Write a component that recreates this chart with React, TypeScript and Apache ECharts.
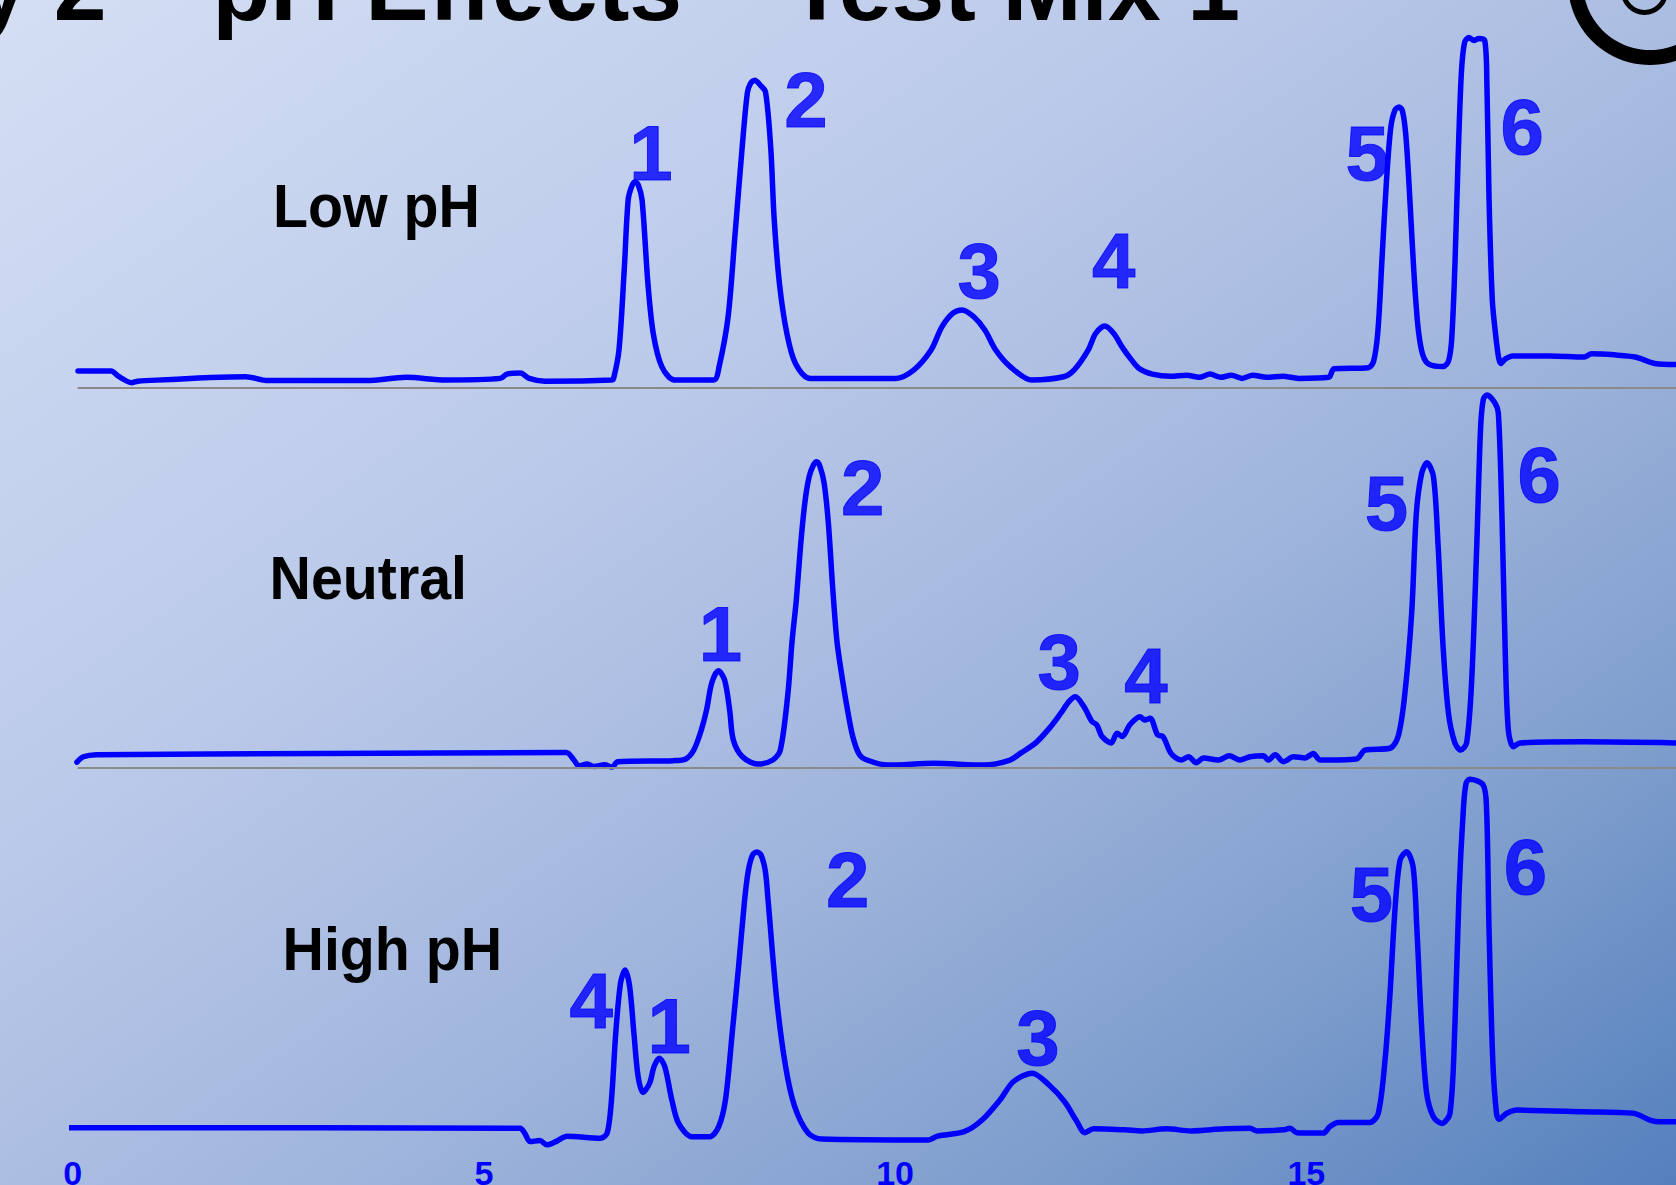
import React, { useEffect, useRef } from "react";
import * as echarts from "echarts";

// ---------- data (time in minutes, signal in detector units above each baseline) ----------
const TIME_MAX = 19.495;
const TIME_TICKS = [0, 5, 10, 15];
const TITLE = "Study 2 \u2013 pH Effects \u2013 Test Mix 1";
const TRACE_NAMES = ["Low pH", "Neutral", "High pH"];

const lowPH: [number, number][] = [
  [0.065, 16], [0.468, 16], [0.555, 11], [0.715, 5], [0.793, 6.4], [2.102, 10.6], [2.372, 7],
  [3.567, 7], [4.056, 10], [4.537, 7.5], [5.2, 9], [5.278, 13], [5.442, 14], [5.551, 9],
  [5.74, 6.4], [6.552, 7.5], [6.578, 9.3], [6.643, 36], [6.708, 113], [6.754, 176], [6.799, 189],
  [6.838, 193], [6.877, 190], [6.923, 176], [6.994, 98], [7.059, 51], [7.163, 20], [7.319, 7.5],
  [7.795, 7.5], [7.86, 20], [7.969, 66.6], [8.055, 145], [8.138, 223], [8.203, 276], [8.242, 285],
  [8.294, 288], [8.359, 283.5], [8.424, 277], [8.489, 223], [8.528, 160], [8.593, 98], [8.684, 51],
  [8.788, 23], [8.97, 9], [10.008, 9], [10.229, 17], [10.437, 35.5], [10.567, 57], [10.703, 70],
  [10.814, 73], [10.957, 66.6], [11.093, 54], [11.223, 35.5], [11.399, 20], [11.659, 7.5],
  [12.048, 10.5], [12.178, 17], [12.347, 35.5], [12.438, 51], [12.549, 58], [12.659, 51],
  [12.763, 38], [12.867, 27], [12.971, 18], [13.127, 13], [13.348, 11], [13.543, 12], [13.699, 10],
  [13.829, 13], [13.959, 10], [14.089, 12], [14.219, 9], [14.349, 12], [14.518, 10], [14.713, 11],
  [14.908, 9], [15.272, 10], [15.337, 18], [15.753, 19], [15.818, 25], [15.87, 53], [15.922, 123],
  [15.974, 193], [16.026, 243], [16.078, 260], [16.13, 263], [16.169, 259], [16.208, 238],
  [16.247, 193], [16.286, 138], [16.325, 88], [16.364, 53], [16.416, 31], [16.494, 22],
  [16.663, 20], [16.728, 25], [16.767, 45], [16.806, 113], [16.845, 213], [16.884, 293],
  [16.923, 323], [16.975, 328], [17.04, 325], [17.092, 327], [17.17, 325], [17.196, 283],
  [17.222, 176], [17.261, 83], [17.3, 51], [17.339, 28], [17.365, 23], [17.417, 27], [17.508, 30],
  [17.963, 30], [18.378, 29], [18.469, 32], [18.742, 31], [19.002, 29], [19.236, 23], [19.496, 22],
];

const neutral: [number, number][] = [
  [0.052, 5], [0.13, 10], [0.286, 12], [3.015, 13], [6.001, 14], [6.095, 7], [6.157, 1.3],
  [6.252, 3.2], [6.339, 1], [6.467, 2.6], [6.558, 0.4], [6.628, 5.4], [7.305, 6.4], [7.455, 8],
  [7.552, 16.3], [7.643, 35], [7.708, 54], [7.77, 79], [7.851, 90.5], [7.926, 82], [7.988, 54],
  [8.032, 26], [8.144, 10], [8.329, 3.2], [8.513, 7], [8.604, 16.3], [8.695, 68], [8.747, 118],
  [8.799, 157], [8.851, 208], [8.903, 248], [8.955, 272], [9.007, 283], [9.046, 286], [9.085, 282],
  [9.137, 266], [9.189, 228], [9.241, 168], [9.293, 118], [9.358, 83], [9.423, 53], [9.488, 28],
  [9.566, 12], [9.657, 7], [9.912, 2.3], [10.469, 4], [11.086, 2.3], [11.398, 7], [11.522, 13.2],
  [11.71, 23], [11.892, 38.2], [12.017, 51], [12.113, 61.6], [12.191, 66.2], [12.295, 57],
  [12.393, 43], [12.451, 40], [12.516, 29], [12.628, 23], [12.698, 32], [12.763, 29], [12.854, 40],
  [12.977, 47.5], [13.036, 44.4], [13.101, 46], [13.192, 30.4], [13.257, 29], [13.355, 13.2],
  [13.478, 7], [13.569, 10], [13.66, 4.5], [13.751, 9], [13.933, 7], [14.063, 11], [14.193, 7],
  [14.315, 10], [14.479, 11], [14.537, 7], [14.622, 12], [14.72, 5.4], [14.843, 10], [14.986, 9],
  [15.084, 13.2], [15.167, 7], [15.609, 8], [15.713, 16.3], [16.017, 18], [16.116, 29],
  [16.194, 66.2], [16.281, 144.4], [16.338, 238], [16.403, 275.4], [16.468, 285], [16.546, 272],
  [16.603, 206.6], [16.663, 113], [16.728, 51], [16.806, 23], [16.877, 16.3], [16.949, 23],
  [17.011, 82], [17.072, 207], [17.118, 316], [17.151, 344], [17.196, 348.5], [17.294, 341],
  [17.335, 331.4], [17.378, 238], [17.417, 113], [17.456, 35], [17.517, 19.5], [17.599, 23],
  [18.365, 24], [19.496, 23],
];

const highPH: [number, number][] = [
  [-0.065, 20], [5.441, 19.5], [5.495, 15], [5.563, 7], [5.68, 8], [5.766, 4], [5.875, 7],
  [6.01, 12], [6.417, 10.2], [6.499, 15], [6.551, 46], [6.603, 108.3], [6.661, 155.2],
  [6.716, 167.5], [6.772, 152], [6.824, 108.3], [6.875, 68], [6.934, 53], [7.015, 61.6],
  [7.068, 77], [7.132, 85], [7.2, 77], [7.285, 46], [7.367, 24], [7.531, 11.6], [7.746, 11.6],
  [7.855, 21], [7.937, 46], [8.019, 108.3], [8.097, 171], [8.17, 233], [8.214, 260], [8.266, 275],
  [8.318, 278], [8.37, 275], [8.422, 260], [8.455, 233], [8.561, 139.5], [8.669, 77], [8.778, 40],
  [8.942, 15], [9.104, 9.4], [10.407, 8.5], [10.515, 12.2], [10.84, 16.3], [11.057, 27.2],
  [11.275, 46], [11.437, 63], [11.665, 71], [11.872, 60], [12.061, 44.3], [12.199, 27.2],
  [12.308, 15.4], [12.412, 19], [12.794, 18], [13.0, 17], [13.3, 19], [13.6, 17], [14.0, 19],
  [14.315, 19.5], [14.4, 17], [14.72, 18], [14.803, 19.5], [14.882, 15.4], [15.207, 15],
  [15.285, 21], [15.389, 25], [15.773, 25], [15.875, 33.5], [15.957, 83.3], [16.018, 146],
  [16.078, 224], [16.14, 270.4], [16.22, 278.2], [16.298, 264.2], [16.343, 208], [16.402, 114.5],
  [16.463, 52.4], [16.545, 30.3], [16.647, 24], [16.747, 33.5], [16.806, 114.5], [16.857, 239.4],
  [16.909, 317.2], [16.942, 342.2], [16.987, 346], [17.151, 340.6], [17.192, 317.2], [17.221, 208],
  [17.267, 83.3], [17.312, 33.5], [17.344, 28], [17.437, 33.5], [17.56, 36.5], [18.365, 35],
  [18.976, 33.5], [19.179, 27.2], [19.301, 25.6], [19.496, 25.6],
];

// peak number labels: [time, signal, label]
const lowPeaks: [number, number, string][] = [
  [7.031, 219.5, "1"], [8.916, 269, "2"], [11.021, 109, "3"], [12.659, 119, "4"],
  [15.74, 219.5, "5"], [17.624, 244.5, "6"],
];
const neutralPeaks: [number, number, string][] = [
  [7.876, 125, "1"], [9.605, 261.5, "2"], [11.996, 98.5, "3"], [13.049, 86, "4"],
  [15.974, 247, "5"], [17.832, 274, "6"],
];
const highPeaks: [number, number, string][] = [
  [6.304, 138.5, "4"], [7.252, 115.5, "1"], [9.423, 251.5, "2"], [11.737, 103.5, "3"],
  [15.792, 239, "5"], [17.664, 264, "6"],
];

// ---------- layout ----------
const W = 1676;
const H = 1185;
const FONT = '"Liberation Sans", Arial, Helvetica, sans-serif';
const BLUE = "#0000ff";
const GRID_LEFT = 72.7;
const GRID_WIDTH = W - GRID_LEFT;
const PANELS = [
  { top: 0, height: 388.0, yMax: 363, baseline: true, labelX: 273, labelY: 206 },
  { top: 388.0, height: 379.5, yMax: 355, baseline: true, labelX: 269.5, labelY: 577.6 },
  { top: 767.5, height: 381.6, yMax: 357, baseline: false, labelX: 282.5, labelY: 948.5 },
];

export default function App() {
  const ref = useRef<HTMLDivElement>(null);

  useEffect(() => {
    document.body.style.margin = "0";
    if (!ref.current) return;
    const chart = echarts.init(ref.current, null, { renderer: "svg" });
    const traces = [lowPH, neutral, highPH];
    const peaks = [lowPeaks, neutralPeaks, highPeaks];

    const series: any[] = [];
    traces.forEach((data, i) => {
      series.push({
        type: "line",
        name: TRACE_NAMES[i],
        xAxisIndex: i,
        yAxisIndex: i,
        data,
        showSymbol: false,
        symbol: "none",
        smooth: 0.3,
        clip: false,
        z: 3,
        lineStyle: { color: BLUE, width: 5.5, join: "round", cap: "round" },
        markLine: PANELS[i].baseline
          ? {
              silent: true,
              symbol: ["none", "none"],
              label: { show: false },
              lineStyle: { color: "#8a8a8a", width: 2, type: "solid" },
              data: [[{ coord: [0.06, 0] }, { coord: [TIME_MAX, 0] }]],
            }
          : undefined,
      });
      series.push({
        type: "scatter",
        xAxisIndex: i,
        yAxisIndex: i,
        symbolSize: 1,
        clip: false,
        silent: true,
        z: 4,
        itemStyle: { color: "rgba(0,0,0,0)" },
        data: peaks[i].map(([t, v, n]) => ({ value: [t, v], name: n })),
        label: {
          show: true,
          position: "inside",
          formatter: "{b}",
          fontSize: 78,
          fontWeight: "bold",
          fontFamily: FONT,
          color: BLUE,
          textBorderColor: BLUE,
          textBorderWidth: 1,
        },
      });
    });

    const option: any = {
      animation: false,
      grid: PANELS.map((p) => ({
        left: GRID_LEFT,
        width: GRID_WIDTH,
        top: p.top,
        height: p.height,
        containLabel: false,
        outerBoundsMode: "none",
      })),
      xAxis: PANELS.map((p, i) => ({
        type: "value",
        gridIndex: i,
        min: 0,
        max: TIME_MAX,
        interval: 5,
        show: i === 2,
        axisLine: { show: false },
        axisTick: { show: false },
        splitLine: { show: false },
        axisLabel: {
          show: i === 2,
          margin: 7,
          fontSize: 34,
          fontWeight: "bold",
          fontFamily: FONT,
          color: BLUE,
          showMaxLabel: false,
          formatter: (v: number) => (TIME_TICKS.includes(v) ? String(v) : ""),
        },
      })),
      yAxis: PANELS.map((p, i) => ({
        type: "value",
        gridIndex: i,
        min: 0,
        max: p.yMax,
        show: false,
        splitLine: { show: false },
      })),
      graphic: [
        {
          type: "rect",
          z: -100,
          silent: true,
          shape: { x: 0, y: 0, width: W, height: H },
          style: {
            fill: new echarts.graphic.LinearGradient(0, 0, 1, 1, [
              { offset: 0, color: "#d4dff4" },
              { offset: 0.35, color: "#bccaea" },
              { offset: 0.6, color: "#a0b5dc" },
              { offset: 0.8, color: "#7f9ecd" },
              { offset: 1, color: "#5480bd" },
            ]),
          },
        },
        {
          type: "text",
          x: 1240,
          y: -13,
          z: 10,
          silent: true,
          style: {
            text: TITLE,
            fontSize: 95,
            fontWeight: "bold",
            fontFamily: FONT,
            fill: "#000000",
            align: "right",
            verticalAlign: "middle",
          },
        },
        {
          type: "ring",
          z: 10,
          silent: true,
          shape: { cx: 1650, cy: -17, r: 82, r0: 67 },
          style: { fill: "#000000" },
        },
        {
          type: "arc",
          z: 10,
          silent: true,
          shape: { cx: 1644.5, cy: -8.5, r: 21, startAngle: 0, endAngle: Math.PI, clockwise: true },
          style: { stroke: "#000000", lineWidth: 5, fill: "none" },
        },
        ...PANELS.map((p, i) => ({
          type: "text",
          x: p.labelX,
          y: p.labelY,
          scaleX: 0.94,
          z: 10,
          silent: true,
          style: {
            text: TRACE_NAMES[i],
            fontSize: 61,
            fontWeight: "bold",
            fontFamily: FONT,
            fill: "#000000",
            align: "left",
            verticalAlign: "middle",
          },
        })),
      ],
      series,
    };

    chart.setOption(option);
    return () => chart.dispose();
  }, []);

  return <div ref={ref} style={{ width: W, height: H }} />;
}
